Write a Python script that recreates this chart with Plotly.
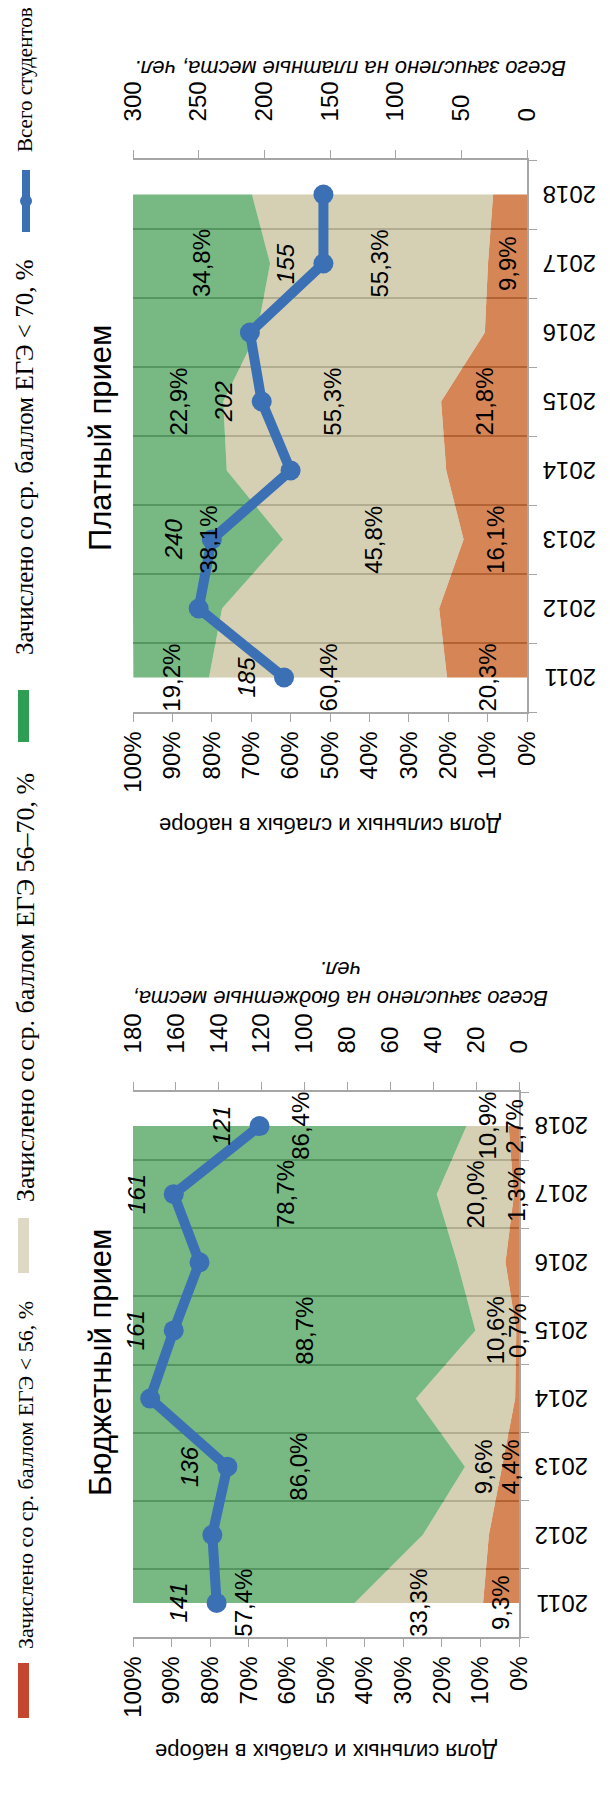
import plotly.graph_objects as go

W, H = 610, 1796

# ---------------- data ----------------
years = [2011, 2012, 2013, 2014, 2015, 2016, 2017, 2018]

# Платный прием (paid admission), % of intake
paid_low = [20.3, 22.3, 16.1, 20.5, 21.8, 10.7, 9.9, 8.6]      # < 56
paid_mid = [60.4, 55.1, 45.8, 55.7, 55.3, 57.8, 55.3, 61.2]    # 56–70
paid_high = [19.2, 22.6, 38.1, 23.8, 22.9, 31.5, 34.8, 30.2]   # > 70
paid_total = [185, 250, 240, 180, 202, 211, 155, 155]          # students
paid_label_years = [2011, 2013, 2015, 2017]

# Бюджетный прием (budget admission), % of intake
budget_low = [9.3, 7.8, 4.4, 1.0, 0.7, 3.5, 1.3, 2.7]
budget_mid = [33.3, 17.1, 9.6, 25.7, 10.6, 12.5, 20.0, 10.9]
budget_high = [57.4, 75.1, 86.0, 73.3, 88.7, 84.0, 78.7, 86.4]
budget_total = [141, 143, 136, 172, 161, 149, 161, 121]
budget_label_years = [2011, 2013, 2015, 2017, 2018]

pct_ticks = [0, 10, 20, 30, 40, 50, 60, 70, 80, 90, 100]
paid_count_ticks = [0, 50, 100, 150, 200, 250, 300]
budget_count_ticks = [0, 20, 40, 60, 80, 100, 120, 140, 160, 180]

legend_names = [
    "Зачислено со ср. баллом ЕГЭ < 56, %",
    "Зачислено со ср. баллом ЕГЭ 56–70, %",
    "Зачислено со ср. баллом ЕГЭ < 70, %",
    "Всего студентов",
]

# ---------------- styles ----------------
SANS = "Liberation Sans, Arial, sans-serif"
SERIF = "Liberation Serif, Times New Roman, serif"
C_LOW = "rgba(196,81,16,0.7)"
C_MID = "rgba(195,186,148,0.7)"
C_HIGH = "rgba(62,154,79,0.7)"
C_LINE = "#3b70b4"
AX = "#a6a6a6"
GRID = "#8a8a8a"
LEG_LOW, LEG_MID, LEG_HIGH = "#c4462f", "#ddd9c4", "#2e9e55"


def fx(px):
    return px / W


def fy(py):
    return 1 - py / H


def fmt(v):
    return f"{v:.1f}".replace(".", ",") + "%"


def ann(**kw):
    base = dict(showarrow=False, xanchor="center", yanchor="middle")
    base.update(kw)
    return base


fig = go.Figure()

charts = [
    dict(low=paid_low, mid=paid_mid, high=paid_high, total=paid_total,
         lab=paid_label_years, xa="x", ya="y", xa2="x2"),
    dict(low=budget_low, mid=budget_mid, high=budget_high, total=budget_total,
         lab=budget_label_years, xa="x3", ya="y3", xa2="x4"),
]

annotations = []
for i, ch in enumerate(charts):
    grp = f"g{i}"
    for vals, col in [(ch["low"], C_LOW), (ch["mid"], C_MID), (ch["high"], C_HIGH)]:
        fig.add_trace(go.Scatter(
            x=vals, y=years, orientation="h", stackgroup=grp, mode="none",
            fillcolor=col, xaxis=ch["xa"], yaxis=ch["ya"], hoverinfo="skip"))
    fig.add_trace(go.Scatter(
        x=ch["total"], y=years, mode="lines+markers",
        line=dict(color=C_LINE, width=10),
        marker=dict(color=C_LINE, size=20),
        xaxis=ch["xa2"], yaxis=ch["ya"]))
    # year labels (upside-down, outside the right axis line)
    for yr in years:
        annotations.append(ann(
            x=1, y=yr, xref=f"{ch['xa']} domain", yref=ch["ya"], text=str(yr),
            textangle=180, xshift=43,
            font=dict(family=SANS, size=24, color="#000")))
    # band labels
    for yr in ch["lab"]:
        k = years.index(yr)
        lo, mi, hi = ch["low"][k], ch["mid"][k], ch["high"][k]
        for val, pos in [(lo, lo / 2), (mi, lo + mi / 2), (hi, lo + mi + hi / 2)]:
            annotations.append(ann(
                x=pos, y=yr, xref=ch["xa"], yref=ch["ya"], text=fmt(val),
                textangle=-90, font=dict(family=SANS, size=24, color="#000")))
        annotations.append(ann(
            x=ch["total"][k], y=yr, xref=ch["xa2"], yref=ch["ya"],
            text=f"<i>{ch['total'][k]}</i>", textangle=-90,
            xshift=-38, font=dict(family=SANS, size=24, color="#000")))

# titles
for txt, yc in [("Платный прием", 438), ("Бюджетный прием", 1362)]:
    annotations.append(ann(
        x=fx(100), y=fy(yc), xref="paper", yref="paper", text=txt,
        textangle=-90, font=dict(family=SANS, size=31, color="#000")))

for txt, xc, yc in [
    ("Доля сильных и слабых в наборе", 330, 826),
    ("Доля сильных и слабых в наборе", 326, 1752),
    ("<i>Всего зачислено на платные места, чел.</i>", 350, 68),
    ("<i>Всего зачислено на бюджетные места,<br>чел.</i>", 341, 984),
]:
    annotations.append(ann(
        x=fx(xc), y=fy(yc), xref="paper", yref="paper", text=txt,
        textangle=180, font=dict(family=SANS, size=22, color="#000")))

# legend (rotated, drawn manually)
leg_text_y = [1475, 988, 457, 80]
leg_sizes = [22, 26, 25, 21]
for name, yc, fs in zip(legend_names, leg_text_y, leg_sizes):
    annotations.append(ann(
        x=fx(25), y=fy(yc), xref="paper", yref="paper",
        text=name, textangle=-90, font=dict(family=SERIF, size=fs, color="#000")))

shapes = [
    dict(type="rect", xref="paper", yref="paper", x0=fx(18), x1=fx(29),
         y0=fy(1718), y1=fy(1663), fillcolor=LEG_LOW, line=dict(width=0)),
    dict(type="rect", xref="paper", yref="paper", x0=fx(18), x1=fx(29),
         y0=fy(1273), y1=fy(1218), fillcolor=LEG_MID, line=dict(width=0)),
    dict(type="rect", xref="paper", yref="paper", x0=fx(18), x1=fx(29),
         y0=fy(742), y1=fy(690), fillcolor=LEG_HIGH, line=dict(width=0)),
    dict(type="line", xref="paper", yref="paper", x0=fx(26), x1=fx(26),
         y0=fy(232), y1=fy(170), line=dict(color=C_LINE, width=8)),
    dict(type="circle", xref="paper", yref="paper", x0=fx(20), x1=fx(32),
         y0=fy(207), y1=fy(195), fillcolor=C_LINE, line=dict(width=0)),
]

minor_vals = [y - 0.5 for y in years] + [years[-1] + 0.5]


def pct_axis(domain, anchor):
    return dict(domain=domain, anchor=anchor, range=[100, 0], automargin=False,
                tickmode="array", tickvals=pct_ticks,
                ticktext=[f"{v}%" for v in pct_ticks], tickangle=-90,
                showline=True, linecolor=AX, linewidth=1.5, ticks="outside",
                ticklen=8, tickcolor=AX, showgrid=False, zeroline=False,
                ticklabelstandoff=0,
                tickfont=dict(family=SANS, size=24, color="#000"))


def year_axis(domain, anchor):
    return dict(domain=domain, anchor=anchor, range=[2010.5, 2018.5],
                automargin=False,
                side="right", tickmode="array", tickvals=years,
                showticklabels=False,
                ticks="", showline=True, linecolor=AX, linewidth=1.5,
                showgrid=False, zeroline=False,
                minor=dict(tickmode="array", tickvals=minor_vals, ticks="outside",
                           ticklen=8, tickcolor=AX, showgrid=True,
                           gridcolor=GRID, gridwidth=2))


def count_axis(over, anchor, rng, ticks):
    return dict(overlaying=over, anchor=anchor, side="top", range=rng,
                automargin=False,
                tickmode="array", tickvals=ticks, tickangle=-90,
                showline=True, linecolor=AX, linewidth=1.5, ticks="outside",
                ticklen=8, tickcolor=AX, showgrid=False, zeroline=False,
                ticklabelstandoff=24,
                tickfont=dict(family=SANS, size=24, color="#000"))


fig.update_layout(
    width=W, height=H, margin=dict(l=0, r=0, t=0, b=0, pad=0, autoexpand=False),
    paper_bgcolor="white", plot_bgcolor="white", showlegend=False,
    xaxis=pct_axis([fx(133), fx(527)], "y"),
    yaxis=year_axis([fy(712), fy(160)], "x"),
    xaxis2=count_axis("x", "y", [300, 0], paid_count_ticks),
    xaxis3=pct_axis([fx(133), fx(519)], "y3"),
    yaxis3=year_axis([fy(1637), fy(1092)], "x3"),
    xaxis4=count_axis("x3", "y3", [180, 0], budget_count_ticks),
    annotations=annotations, shapes=shapes,
)

fig.write_html("out.html", config={"displayModeBar": False},
               post_script="document.body.style.margin='0px';")
